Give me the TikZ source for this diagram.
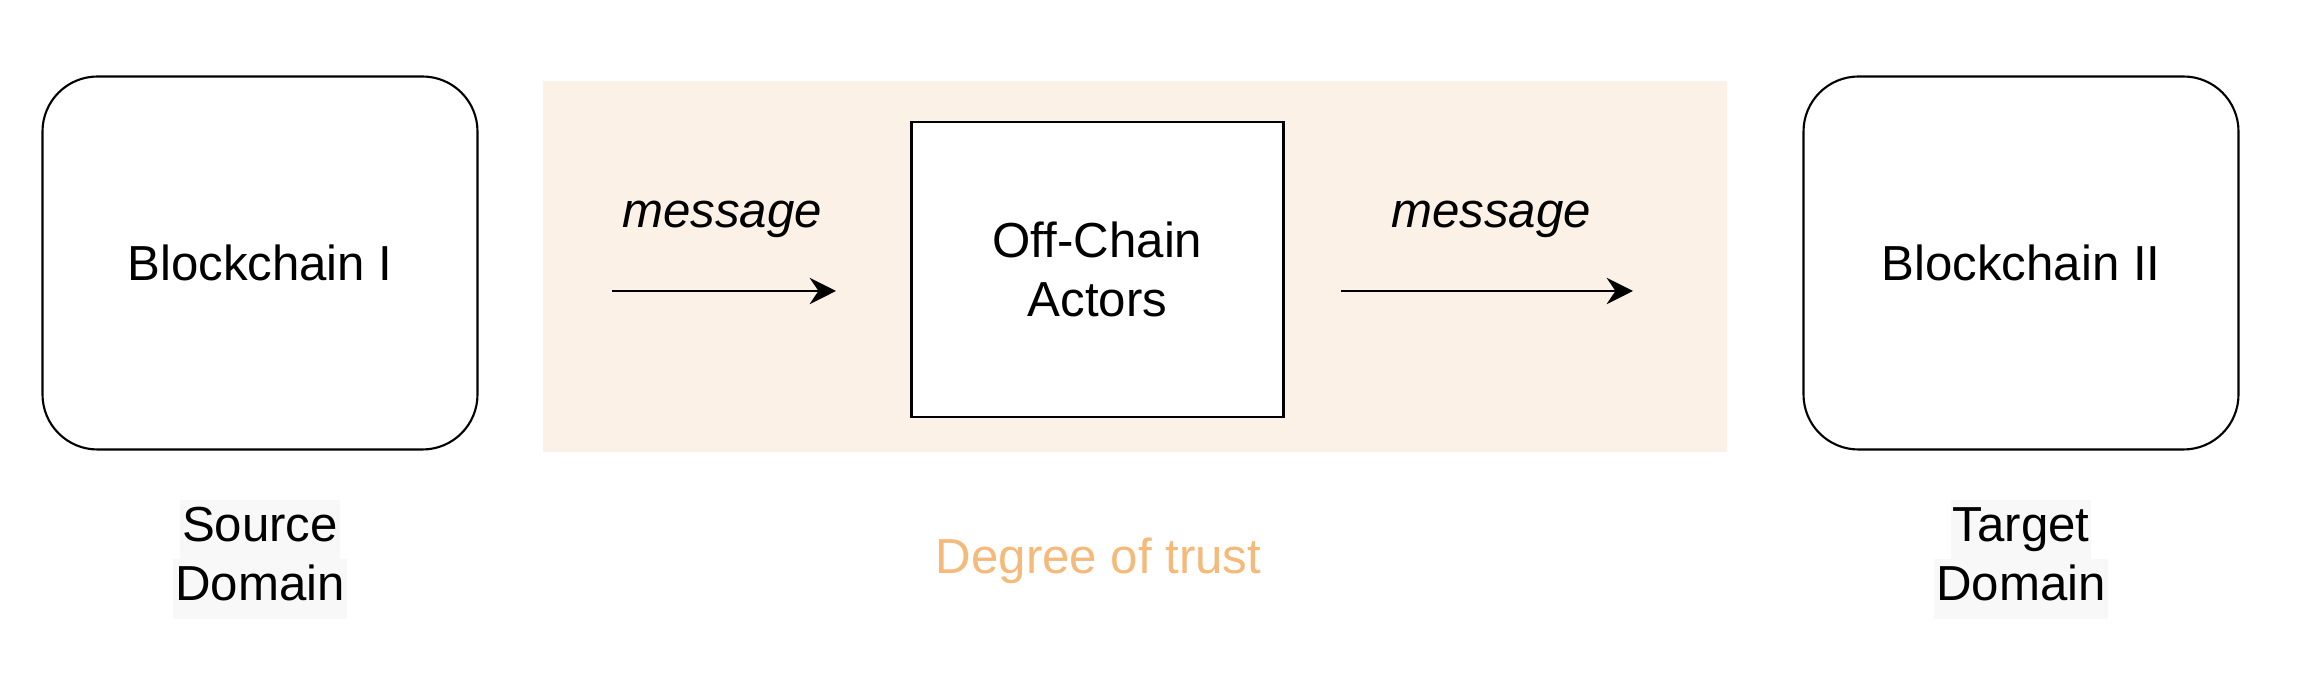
\documentclass[tikz,border=0pt]{standalone}
\usepackage{fontspec}
\setmainfont{Liberation Sans}
\usetikzlibrary{arrows.meta}
\definecolor{trustband}{HTML}{FCF1E6}
\definecolor{trusttext}{HTML}{F5B97A}
\definecolor{labelbg}{HTML}{F8F8F8}
\newcommand{\domline}[1]{{\setlength{\fboxsep}{0.5pt}\colorbox{labelbg}{\rule[-4.6pt]{0pt}{15.8pt}#1}}}

\begin{document}
\begin{tikzpicture}[
    font=\fontsize{14}{16.8}\selectfont,
    chain/.style={draw, line width=0.6pt, rounded corners=0.55cm, minimum width=4.35cm, minimum height=3.73cm},
    actors/.style={draw, fill=white, line width=0.6pt, minimum width=3.72cm, minimum height=2.95cm, align=center},
    msg/.style={-{Stealth[length=7.5pt,width=7.5pt,inset=2.5pt]}, line width=0.6pt},
    dom/.style={align=center, inner sep=0pt}]
    \useasboundingbox (0,0) rectangle (23,6.76);
    \fill [trustband] (5.43,2.235) rectangle (17.27,5.95);
    \node [chain] (b1) at (2.60,4.13) {Blockchain I};
    \node [chain] (b2) at (20.21,4.13) {Blockchain II};
    \node [actors] (off) at (10.975,4.065) {Off-Chain\\Actors};
    \node [anchor=base] (m1) at (7.22,4.48) {\itshape message};
    \node [anchor=base] (m2) at (14.91,4.48) {\itshape message};
    \coordinate (a1s) at (6.12,3.85);
    \coordinate (a1e) at (8.36,3.85);
    \coordinate (a2s) at (13.41,3.85);
    \coordinate (a2e) at (16.33,3.85);
    \draw [msg] (a1s) -- (a1e);
    \draw [msg] (a2s) -- (a2e);
    \node [dom] (src) at (2.60,1.165) {\domline{Source}\\\domline{Domain}};
    \node [dom] (tgt) at (20.21,1.165) {\domline{Target}\\\domline{Domain}};
    \node [text=trusttext, anchor=base] (trust) at (10.985,1.02) {Degree of trust};
  \end{tikzpicture}
\end{document}
